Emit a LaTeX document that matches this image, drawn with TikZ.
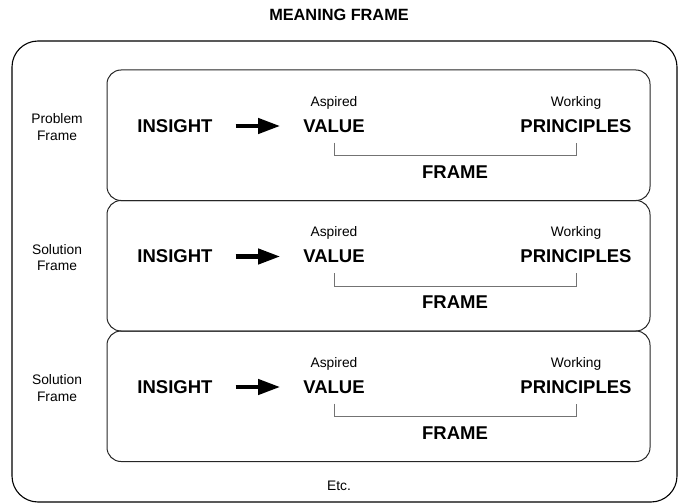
\documentclass[tikz,border=0pt]{standalone}
\usepackage{fontspec}
\setmainfont{Liberation Sans}
\usetikzlibrary{arrows.meta, positioning}

\begin{document}
\begin{tikzpicture}[
    x=1pt, y=-1pt,
    node distance = 6pt and 5mm,
    ramme/.style = {draw=black!85, line width=1pt, rounded corners=14pt,
                    inner sep=0pt, minimum width=543pt, minimum height=130.5pt},
    stor/.style = {font=\fontsize{18.5}{20}\selectfont\bfseries, inner sep=2pt},
    liten/.style = {font=\fontsize{13.8}{16.5}\selectfont, inner sep=2pt, align=center},
    pil/.style = {black, line width=4.2pt, -{Triangle[length=22pt,width=15pt]},
                  shorten <=21pt, shorten >=21pt},
    klamme/.style = {black!55, line width=1pt}
    ]
    \useasboundingbox (0,0) rectangle (678,503);
    %title and outer frame
    \node[font=\fontsize{16.3}{18}\selectfont\bfseries] (tittel) at (339,15)
        {MEANING FRAME};
    \node[draw, line width=1.1pt, rounded corners=26pt, inner sep=0pt,
          minimum width=665pt, minimum height=461pt] (ytre) at (344.5,271.5) {};
    \node[liten] (etc) at (339,486) {Etc.};

    %row 1
    \node[ramme] (boks1) at (378.5,135.25) {};
    \node[liten] (navn1) at (57,127) {Problem\\Frame};
    \node[stor] (ins1) at (175,126) {INSIGHT};
    \node[stor] (val1) at (334,126) {VALUE};
    \node[liten] (asp1) [above=of val1] {Aspired};
    \node[stor] (prin1) at (576,126) {PRINCIPLES};
    \node[liten] (work1) [above=of prin1] {Working};
    \node[stor] (fr1) at (455,172) {FRAME};

    %row 2
    \node[ramme] (boks2) at (378.5,265.75) {};
    \node[liten] (navn2) at (57,257.5) {Solution\\Frame};
    \node[stor] (ins2) at (175,256.5) {INSIGHT};
    \node[stor] (val2) at (334,256.5) {VALUE};
    \node[liten] (asp2) [above=of val2] {Aspired};
    \node[stor] (prin2) at (576,256.5) {PRINCIPLES};
    \node[liten] (work2) [above=of prin2] {Working};
    \node[stor] (fr2) at (455,302.5) {FRAME};

    %row 3
    \node[ramme] (boks3) at (378.5,396.25) {};
    \node[liten] (navn3) at (57,388) {Solution\\Frame};
    \node[stor] (ins3) at (175,387) {INSIGHT};
    \node[stor] (val3) at (334,387) {VALUE};
    \node[liten] (asp3) [above=of val3] {Aspired};
    \node[stor] (prin3) at (576,387) {PRINCIPLES};
    \node[liten] (work3) [above=of prin3] {Working};
    \node[stor] (fr3) at (455,433) {FRAME};

    % arrows and brackets
    \draw[pil] (ins1) -- (val1);
    \draw[pil] (ins2) -- (val2);
    \draw[pil] (ins3) -- (val3);
    \draw[klamme] ([yshift=-8pt]val1.south) -- ++(0,13) -| ([yshift=-8pt]prin1.south);
    \draw[klamme] ([yshift=-8pt]val2.south) -- ++(0,13) -| ([yshift=-8pt]prin2.south);
    \draw[klamme] ([yshift=-8pt]val3.south) -- ++(0,13) -| ([yshift=-8pt]prin3.south);
\end{tikzpicture}
\end{document}
